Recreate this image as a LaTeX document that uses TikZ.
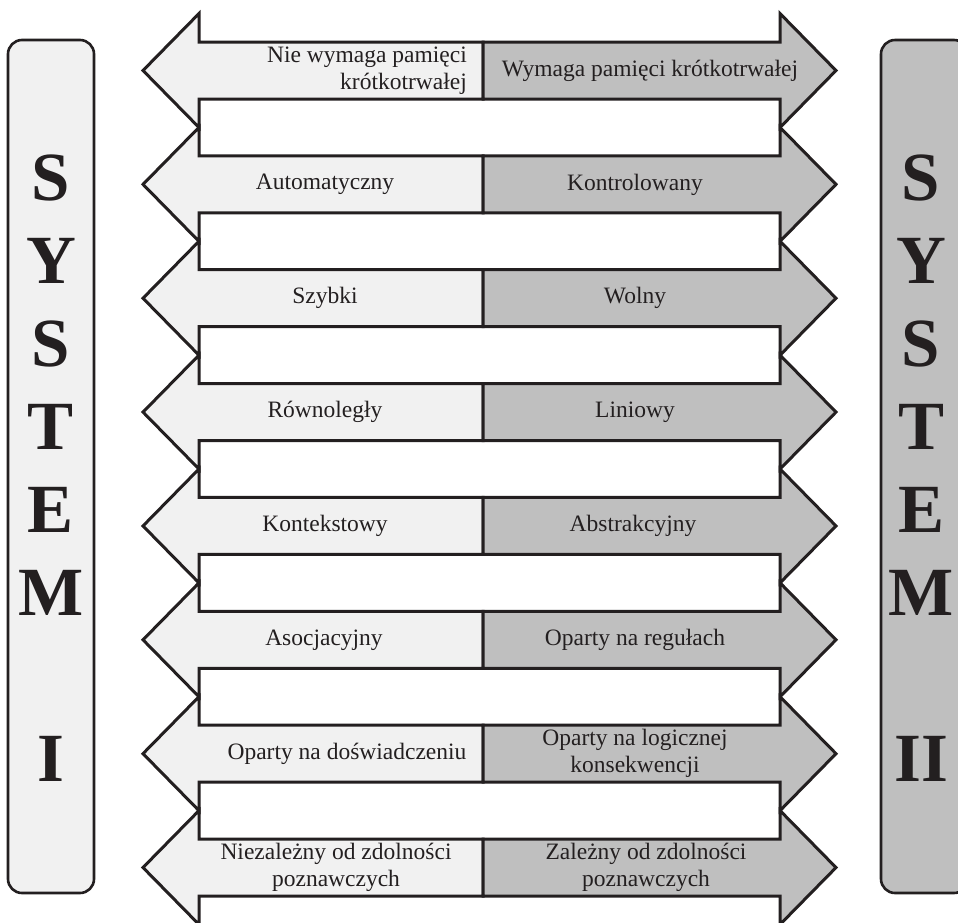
\documentclass[tikz,border=0pt]{standalone}
\usepackage{fontspec}
\setmainfont{Liberation Serif}
\definecolor{lightfill}{HTML}{F1F1F1}
\definecolor{darkfill}{HTML}{BFBFBF}
\definecolor{ink}{HTML}{231F20}
\begin{document}
\begin{tikzpicture}[x=1pt,y=-1pt,
  part/.style={draw=ink,line width=3pt,line join=miter},
  lbl/.style={text=ink,font=\fontsize{23.5}{27}\selectfont,inner sep=0pt,align=center},
  sysbox/.style={draw=ink,line width=2.6pt,rounded corners=14pt},
  big/.style={text=ink,font=\fontsize{69}{69}\selectfont\bfseries,inner sep=0pt}]
\useasboundingbox (0,0) rectangle (958,922);
\clip (0,0) rectangle (958,922);
% system boxes
\draw[sysbox,fill=lightfill] (8,40) rectangle (94,893);
\draw[sysbox,fill=darkfill] (881,40) rectangle (968,893);
% letters
\foreach \L/\i in {S/0,Y/1,S/2,T/3,E/4,M/5}{
  \node[big] (l\i) at (51,178+\i*83) {\L};
  \node[big] (r\i) at (921,178+\i*83) {\L};
}
\node[big] (l7) at (51,759) {I};
\node[big] (r7) at (921,759) {II};
% double arrows
\foreach \k in {0,...,7}{
  \pgfmathsetmacro{\c}{70.5+\k*113.86}
  \draw[part,fill=lightfill] (483,\c-28.5) -- (199,\c-28.5) -- (199,\c-57) -- (143,\c) -- (199,\c+57) -- (199,\c+28.5) -- (483,\c+28.5) -- cycle;
  \draw[part,fill=darkfill] (483,\c-28.5) -- (780,\c-28.5) -- (780,\c-57) -- (836,\c) -- (780,\c+57) -- (780,\c+28.5) -- (483,\c+28.5) -- cycle;
}
% labels
\node[lbl,align=right,anchor=east] (a1) at (467,70.5) {Nie wymaga pamięci\\krótkotrwałej};
\node[lbl] (b1) at (650,70.5) {Wymaga pamięci krótkotrwałej};
\node[lbl] (a2) at (325,184.4) {Automatyczny};
\node[lbl] (b2) at (635,184.4) {Kontrolowany};
\node[lbl] (a3) at (325,298.2) {Szybki};
\node[lbl] (b3) at (635,298.2) {Wolny};
\node[lbl] (a4) at (325,412.1) {Równoległy};
\node[lbl] (b4) at (635,412.1) {Liniowy};
\node[lbl] (a5) at (325,525.9) {Kontekstowy};
\node[lbl] (b5) at (633,525.9) {Abstrakcyjny};
\node[lbl] (a6) at (324,639.8) {Asocjacyjny};
\node[lbl] (b6) at (635,639.8) {Oparty na regułach};
\node[lbl] (a7) at (347,753.7) {Oparty na doświadczeniu};
\node[lbl] (b7) at (635,753.7) {Oparty na logicznej\\konsekwencji};
\node[lbl] (a8) at (336,867.5) {Niezależny od zdolności\\poznawczych};
\node[lbl] (b8) at (646,867.5) {Zależny od zdolności\\poznawczych};
\end{tikzpicture}
\end{document}
